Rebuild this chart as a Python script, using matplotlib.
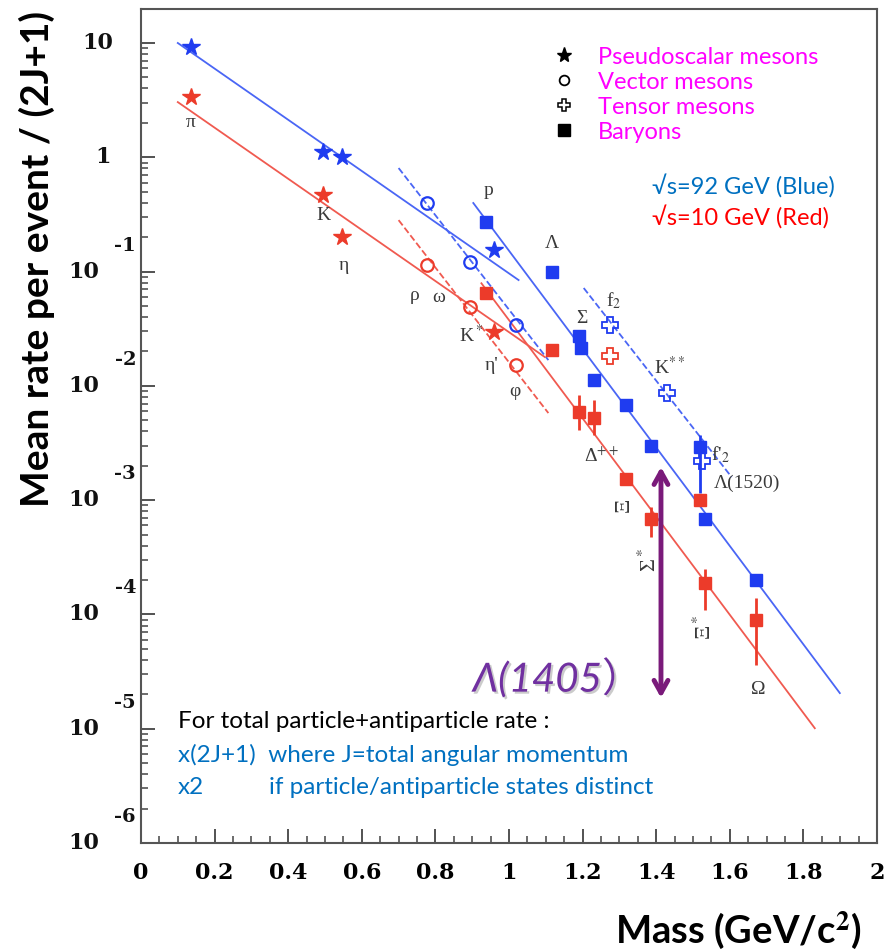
import numpy as np
import matplotlib
matplotlib.use("Agg")
import matplotlib.pyplot as plt
from matplotlib.lines import Line2D
from matplotlib import transforms
from matplotlib.ticker import LogLocator, NullFormatter, MultipleLocator
import matplotlib.patheffects as pe

plt.rcParams['mathtext.fontset'] = 'stix'

# ---- data (mass in GeV/c2, rate per event / (2J+1)) ----
# sqrt(s) = 92 GeV (blue)
b_ps_m = [0.136, 0.495, 0.547, 0.958]
b_ps_r = [9.2, 1.12, 1.0, 0.155]
b_vec_m = [0.776, 0.893, 1.020]
b_vec_r = [0.40, 0.121, 0.034]
b_ten_m = [1.275, 1.430, 1.525]
b_ten_r = [0.034, 0.0087, 0.0022]
b_bar_m = [0.938, 1.116, 1.189, 1.197, 1.232, 1.318, 1.385, 1.520, 1.532, 1.672]
b_bar_r = [0.27, 0.10, 0.0273, 0.0214, 0.0112, 0.0068, 0.0030, 0.0029, 0.00068, 0.00020]
b_bar_lo = [0, 0, 0, 0, 0, 0, 0, 0.00115, 0, 0]
b_bar_hi = [0, 0, 0, 0, 0, 0, 0, 0.0037, 0, 0]

# sqrt(s) = 10 GeV (red)
r_ps_m = [0.136, 0.495, 0.547, 0.958]
r_ps_r = [3.37, 0.47, 0.20, 0.0295]
r_vec_m = [0.776, 0.893, 1.020]
r_vec_r = [0.114, 0.049, 0.0151]
r_ten_m = [1.275]
r_ten_r = [0.0182]
r_bar_m = [0.938, 1.116, 1.189, 1.232, 1.318, 1.385, 1.520, 1.532, 1.672]
r_bar_r = [0.065, 0.0204, 0.0059, 0.0052, 0.00153, 0.00068, 0.0010, 0.000188, 0.000089]
r_bar_lo = [0, 0, 0.0041, 0.0037, 0, 0.00048, 0, 0.00011, 0.000036]
r_bar_hi = [0, 0, 0.0083, 0.0075, 0, 0.00087, 0, 0.00025, 0.00014]

# fitted lines: (mass start, mass end, rate start, rate end)
b_lines = {
    "meson": ([0.10, 1.026], [10.0, 0.0843], "-"),
    "vector": ([0.70, 1.107], [0.805, 0.0168], "--"),
    "baryon": ([0.903, 1.899], [0.398, 2.05e-5], "-"),
    "tensor": ([1.203, 1.605], [0.0718, 0.00159], "--"),
}
r_lines = {
    "meson": ([0.10, 1.097], [3.04, 0.0179], "-"),
    "vector": ([0.70, 1.107], [0.282, 0.00578], "--"),
    "baryon": ([0.925, 1.831], [0.079, 1.01e-5], "-"),
}

# particle names and where they are written
names = ["π", "K", "η", "ρ", "ω", "K$^*$", "η'", "φ", "p", "Λ", "Σ", "f$_2$",
         "K$^{**}$", "Δ$^{++}$", "f'$_2$", "Λ(1520)", "Ξ", "Σ$^*$", "Ξ$^*$", "Ω"]
name_m = [0.136, 0.495, 0.552, 0.743, 0.808, 0.898, 0.952, 1.015, 0.944, 1.116,
          1.197, 1.284, 1.437, 1.252, 1.575, 1.648, 1.312, 1.382, 1.532, 1.676]
name_r = [2.0, 0.312, 0.114, 0.0622, 0.0598, 0.0278, 0.0151, 0.0090, 0.508, 0.175,
          0.039, 0.056, 0.0145, 0.00244, 0.00248, 0.00141, 0.00091, 0.00030, 7.8e-5, 2.2e-5]
name_rot = [0] * 16 + [90, 90, 90, 0]

decades = [-6, -5, -4, -3, -2, -1, 0, 1]
xticks = [0, 0.2, 0.4, 0.6, 0.8, 1, 1.2, 1.4, 1.6, 1.8, 2]

blue = "#1f3cf0"
red = "#ec3b2a"
blue_line = "#4a66f5"
red_line = "#f05a50"
purple = "#7a1a7a"

fig = plt.figure(figsize=(8.86, 9.5), dpi=100)
ax = fig.add_axes([141 / 886, 1 - 843 / 950, 736 / 886, 834 / 950])
ax.set_yscale("log")
ax.set_xlim(0, 2)
ax.set_ylim(1e-6, 10 ** 1.2975)

# lines
for lines, c in ((b_lines, blue_line), (r_lines, red_line)):
    for key, (xs, ys, ls) in lines.items():
        ax.plot(xs, ys, ls=ls, color=c, lw=1.3, zorder=2)

# markers
for (ps_m, ps_r, vm, vr, tm, tr, bm, br, blo, bhi, c) in (
        (b_ps_m, b_ps_r, b_vec_m, b_vec_r, b_ten_m, b_ten_r, b_bar_m, b_bar_r, b_bar_lo, b_bar_hi, blue),
        (r_ps_m, r_ps_r, r_vec_m, r_vec_r, r_ten_m, r_ten_r, r_bar_m, r_bar_r, r_bar_lo, r_bar_hi, red)):
    ax.plot(ps_m, ps_r, "*", color=c, ms=13, ls="none", zorder=4)
    ax.plot(vm, vr, "o", mfc="none", mec=c, mew=1.6, ms=9, ls="none", zorder=4)
    ax.plot(tm, tr, "P", mfc="none", mec=c, mew=1.3, ms=11, ls="none", zorder=4)
    br_a = np.array(br)
    lo = np.where(np.array(blo) > 0, br_a - np.array(blo), 0)
    hi = np.where(np.array(bhi) > 0, np.array(bhi) - br_a, 0)
    ax.errorbar(bm, br, yerr=[lo, hi], fmt="s", color=c, ms=9, elinewidth=2,
                capsize=0, zorder=4)

# particle names
for n, m, r, rot in zip(names, name_m, name_r, name_rot):
    ax.text(m, r, n, ha="center", va="center", rotation=rot,
            fontsize=16 if rot else 14,
            family="Liberation Serif", color="#3a3a3a", zorder=5)

# Lambda(1405) arrow and label
ax.annotate("", xy=(1.413, 10 ** -2.71), xytext=(1.413, 10 ** -4.73),
            arrowprops=dict(arrowstyle="<->,head_length=0.9,head_width=0.5",
                            color=purple, lw=3.5, shrinkA=0, shrinkB=0), zorder=6)
ax.text(1.362, 10 ** -4.56, "Λ(1405）", ha="right", va="center", fontsize=29,
        style="italic", color="#7030A0", family=["Lato", "DejaVu Sans", "Noto Sans CJK JP"],
        path_effects=[pe.withSimplePatchShadow(offset=(1.5, -1.5), shadow_rgbFace="#999999", alpha=0.5)],
        zorder=6)

# axes frame and ticks
for s in ax.spines.values():
    s.set_color("#555555")
    s.set_linewidth(1.5)
ax.set_xticks(xticks)
ax.set_xticklabels(["%g" % v for v in xticks], family="DejaVu Serif",
                   fontweight="bold", fontsize=16)
ax.xaxis.set_minor_locator(MultipleLocator(0.05))
ax.set_yticks([10.0 ** e for e in decades])
ax.set_yticklabels([])
ax.yaxis.set_minor_locator(LogLocator(base=10, subs=np.arange(2, 10)))
ax.yaxis.set_minor_formatter(NullFormatter())
ax.tick_params(which="major", direction="in", length=10, width=1.3, color="#444444")
ax.tick_params(which="minor", direction="in", length=5, width=1.1, color="#444444")
ax.tick_params(axis="x", which="major", pad=14)

# old-style y labels: "10" with exponent above
tr = transforms.blended_transform_factory(ax.transAxes, ax.transData)
up = tr + transforms.ScaledTranslation(0, 0.26, fig.dpi_scale_trans)
lab = dict(family="DejaVu Serif", fontweight="bold", color="#111111")
for e in decades:
    if e == 1:
        ax.text((113 - 141) / 736, 10.0 ** e, "10", transform=tr, ha="right", va="center", fontsize=16, **lab)
    elif e == 0:
        ax.text((111 - 141) / 736, 10.0 ** e, "1", transform=tr, ha="right", va="center", fontsize=16, **lab)
    else:
        ax.text((99 - 141) / 736, 10.0 ** e, "10", transform=tr, ha="right", va="center", fontsize=16, **lab)
        ax.text((136 - 141) / 736, 10.0 ** e, "%d" % e, transform=up, ha="right", va="center", fontsize=14, **lab)

# legend of symbols
handles = [Line2D([], [], marker="*", color="k", ls="none", ms=11),
           Line2D([], [], marker="o", mfc="none", mec="k", mew=1.3, ls="none", ms=7),
           Line2D([], [], marker="P", mfc="none", mec="k", mew=1.1, ls="none", ms=9),
           Line2D([], [], marker="s", color="k", ls="none", ms=8)]
ax.legend(handles, ["Pseudoscalar mesons", "Vector mesons", "Tensor mesons", "Baryons"],
          loc="upper left", bbox_to_anchor=(0.560, 0.955), frameon=False, borderpad=0,
          borderaxespad=0, handlelength=0.9, handletextpad=1.0, labelspacing=0.17,
          labelcolor="#FF00FF", prop={"family": "Lato", "size": 17})

sans = ["Lato", "DejaVu Sans"]
ax.text((652 - 141) / 736, (843 - 187) / 834, "√s=92 GeV (Blue)", transform=ax.transAxes,
        color="#0070C0", fontsize=17, family=sans, va="center")
ax.text((652 - 141) / 736, (843 - 218) / 834, "√s=10 GeV (Red)", transform=ax.transAxes,
        color="#FF0000", fontsize=17, family=sans, va="center")

ax.text((178 - 141) / 736, (843 - 722) / 834, "For total particle+antiparticle rate :",
        transform=ax.transAxes, color="black", fontsize=17.5, family=sans, va="center")
ax.text((178 - 141) / 736, (843 - 755) / 834, "x(2J+1)  where J=total angular momentum",
        transform=ax.transAxes, color="#0070C0", fontsize=17.5, family=sans, va="center")
ax.text((178 - 141) / 736, (843 - 788) / 834, "x2", transform=ax.transAxes,
        color="#0070C0", fontsize=17.5, family=sans, va="center")
ax.text((269 - 141) / 736, (843 - 788) / 834, "if particle/antiparticle states distinct",
        transform=ax.transAxes, color="#0070C0", fontsize=17.5, family=sans, va="center")

fig.text(37 / 886, 1 - 259 / 950, "Mean rate per event / (2J+1)", rotation=90,
         ha="center", va="center", fontsize=28, fontweight="bold", family=sans)
fig.text(862 / 886, 1 - 930 / 950, "Mass (GeV/c$^{\\mathbf{2}}$)", ha="right", va="center",
         fontsize=27.5, fontweight="bold", family=sans)

fig.savefig("out.png", dpi=100)
